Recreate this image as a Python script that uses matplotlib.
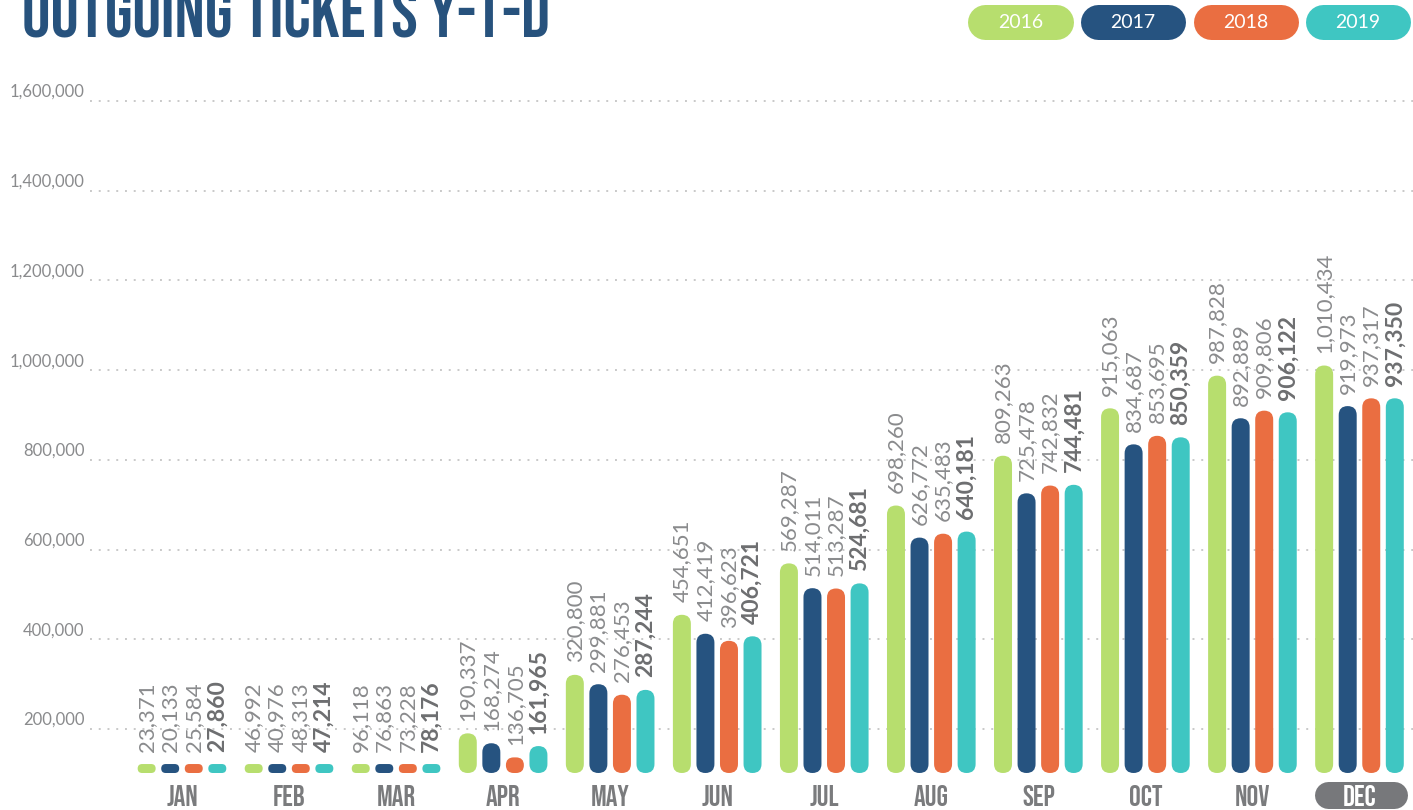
import numpy as np
import matplotlib
matplotlib.use('Agg')
import matplotlib.pyplot as plt
from matplotlib.patches import FancyBboxPatch
from matplotlib.lines import Line2D

# data
months = ['JAN', 'FEB', 'MAR', 'APR', 'MAY', 'JUN', 'JUL', 'AUG', 'SEP', 'OCT', 'NOV', 'DEC']
years = ['2016', '2017', '2018', '2019']
t2016 = [23371, 46992, 96118, 190337, 320800, 454651, 569287, 698260, 809263, 915063, 987828, 1010434]
t2017 = [20133, 40976, 76863, 168274, 299881, 412419, 514011, 626772, 725478, 834687, 892889, 919973]
t2018 = [25584, 48313, 73228, 136705, 276453, 396623, 513287, 635483, 742832, 853695, 909806, 937317]
t2019 = [27860, 47214, 78176, 161965, 287244, 406721, 524681, 640181, 744481, 850359, 906122, 937350]
yticks = [200000, 400000, 600000, 800000, 1000000, 1200000, 1400000, 1600000]

series = [t2016, t2017, t2018, t2019]
colors = ['#b7de6e', '#265380', '#ea6e41', '#3fc6c2']
navy = '#27527d'
grey = '#8a8b8d'
dgrey = '#6d6e70'
cond = ['Bebas Neue', 'League Gothic', 'Oswald', 'DejaVu Sans']
body = ['Lato', 'DejaVu Sans']

W, H = 1413, 810
fig = plt.figure(figsize=(W / 100, H / 100), dpi=100)
fig.patch.set_facecolor('white')
ax = fig.add_axes([0, 37 / H, 1, 773 / H])
ax.axis('off')

ybot, ytop = 101900, 1825400
xl, xr = -1.70, 11.50
ax.set_xlim(xl, xr)
ax.set_ylim(ybot, ytop)

# data units per pixel
ux = (xr - xl) / W
uy = (ytop - ybot) / 773.0
aspect = uy / ux

# dotted grid
ax.hlines(yticks, -0.86, xr, colors='#c9c9c9', linestyles=(0, (1, 3.5)), linewidth=1.4, zorder=0)
for v in yticks:
    ax.annotate('{:,}'.format(v), xy=(-0.86, v), xytext=(-4, 6.5), textcoords='offset points',
                ha='right', va='center', fontsize=12, color=grey, family=body)

bw = 0.168
step = 0.22
minh = 20000
for j, vals in enumerate(series):
    for i, v in enumerate(vals):
        x = i + (j - 1.5) * step
        top = max(v, ybot + minh)
        h = top - ybot
        r = min(bw / 2, h / aspect / 2)
        p = FancyBboxPatch((x - bw / 2, ybot), bw, h,
                           boxstyle='round,pad=0,rounding_size=%f' % r,
                           mutation_aspect=aspect, fc=colors[j], ec='none', zorder=2, clip_on=False)
        ax.add_patch(p)
        if j == 3:
            ax.annotate('{:,}'.format(v), xy=(x, top), xytext=(0, 9), textcoords='offset points',
                        rotation=90, ha='center', va='bottom', fontsize=16.5, color=dgrey,
                        family=body, fontweight='bold')
        else:
            ax.annotate('{:,}'.format(v), xy=(x, top), xytext=(0, 9), textcoords='offset points',
                        rotation=90, ha='center', va='bottom', fontsize=16, color=grey,
                        family=body)

# month labels
for i, m in enumerate(months):
    c = '#7a7b7d'
    if m == 'DEC':
        c = 'white'
        ax.plot([i - 0.29, i + 0.32], [-22 / 773, -22 / 773], transform=ax.get_xaxis_transform(),
                color='#77787b', lw=27 * 0.72, solid_capstyle='round', clip_on=False, zorder=3)
    ax.annotate(m, xy=(i, 0), xycoords=('data', 'axes fraction'), xytext=(0, -16),
                textcoords='offset points', ha='center', va='center', fontsize=21,
                color=c, family=cond, fontweight='bold', zorder=4)

# legend pills
for k, yr in enumerate(years):
    cx = 1020.5 + k * 112.5
    cy = H - 22
    fig.add_artist(Line2D([(cx - 35) / W, (cx + 35) / W], [cy / H, cy / H], transform=fig.transFigure,
                          color=colors[k], lw=35 * 0.72, solid_capstyle='round'))
    fig.text(cx / W, cy / H, yr, ha='center', va='center', color='white', fontsize=14,
             family=body)

# title, cut at the top like the reference
fig.text(22 / W, (H - 38) / H, 'OUTGOING TICKETS Y-T-D', ha='left', va='baseline',
         fontsize=51, color=navy, family=cond, fontweight='bold')

fig.savefig('out.png', dpi=100)
